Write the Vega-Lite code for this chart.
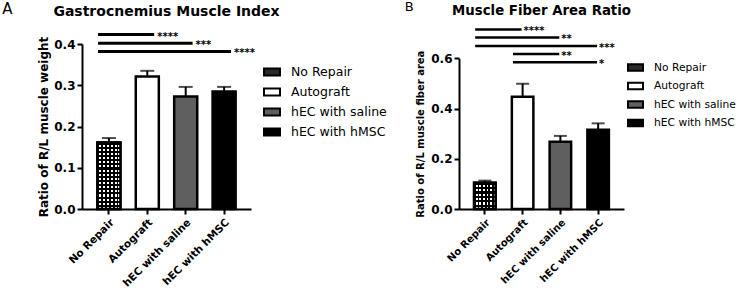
{
 "$schema": "https://vega.github.io/schema/vega-lite/v6.json",
 "padding": {"left": 2, "top": 0, "right": 0, "bottom": 0},
 "spacing": 17,
 "datasets": {
  "gastro": [
   {"group": "No Repair", "mean": 0.161, "upper": 0.172},
   {"group": "Autograft", "mean": 0.321, "upper": 0.335},
   {"group": "hEC with saline", "mean": 0.273, "upper": 0.296},
   {"group": "hEC with hMSC", "mean": 0.285, "upper": 0.296}
  ],
  "fiber": [
   {"group": "No Repair", "mean": 0.105, "upper": 0.113},
   {"group": "Autograft", "mean": 0.447, "upper": 0.499},
   {"group": "hEC with saline", "mean": 0.268, "upper": 0.291},
   {"group": "hEC with hMSC", "mean": 0.316, "upper": 0.341}
  ],
  "gastroSig": [
   {"g1": "No Repair", "g2": "Autograft", "level": 0.423, "stars": "****"},
   {"g1": "No Repair", "g2": "hEC with saline", "level": 0.402, "stars": "***"},
   {"g1": "No Repair", "g2": "hEC with hMSC", "level": 0.382, "stars": "****"}
  ],
  "fiberSig": [
   {"g1": "No Repair", "g2": "Autograft", "level": 0.715, "stars": "****"},
   {"g1": "No Repair", "g2": "hEC with saline", "level": 0.683, "stars": "**"},
   {"g1": "No Repair", "g2": "hEC with hMSC", "level": 0.649, "stars": "***"},
   {"g1": "Autograft", "g2": "hEC with saline", "level": 0.617, "stars": "**"},
   {"g1": "Autograft", "g2": "hEC with hMSC", "level": 0.584, "stars": "*"}
  ]
 },
 "hconcat": [
  {
   "title": {"text": "A", "anchor": "start", "frame": "bounds", "fontSize": 15, "fontWeight": "normal", "dx": -35.5, "offset": -24.5, "baseline": "alphabetic"},
   "vconcat": [
    {
     "width": 169,
     "height": 165,
     "title": {"text": "Gastrocnemius Muscle Index", "fontSize": 14, "fontWeight": "bold", "anchor": "middle", "frame": "group", "offset": 2, "baseline": "alphabetic"},
     "layer": [
      {
       "data": {"name": "gastro"},
       "mark": {"type": "bar", "stroke": "black", "strokeWidth": 2.5},
       "encoding": {
        "x": {"field": "group", "type": "nominal", "title": null,
              "scale": {"domain": ["No Repair", "Autograft", "hEC with saline", "hEC with hMSC"], "paddingInner": 0.4, "paddingOuter": 0.4},
              "axis": {"labelAngle": -45, "labelFontSize": 10.5, "labelAlign": "right", "labelBaseline": "top", "labelPadding": 3}},
        "y": {"field": "mean", "type": "quantitative", "title": "Ratio of R/L muscle weight",
              "scale": {"domain": [0, 0.4], "nice": false},
              "axis": {"values": [0, 0.1, 0.2, 0.3, 0.4], "format": ".1f", "labelFontSize": 12, "titleFontSize": 12, "titlePadding": 3}},
        "fill": {"field": "group", "type": "nominal",
                 "scale": {"domain": ["No Repair", "Autograft", "hEC with saline", "hEC with hMSC"], "range": ["#2a2a2a", "white", "#5f5f5f", "black"]},
                 "legend": {"orient": "none", "legendX": 181, "legendY": 19, "title": null, "labelFontSize": 12.5, "labelColor": "black", "labelLimit": 0, "symbolType": "M-1,-0.44H1V0.44H-1Z", "symbolSize": 256, "symbolStrokeColor": "black", "symbolStrokeWidth": 2, "rowPadding": 3, "labelOffset": 10, "padding": 0}}
       }
      },
      {
       "data": {"name": "gastro"},
       "transform": [{"filter": "datum.group === 'No Repair'"}],
       "mark": {"type": "bar", "strokeWidth": 0, "fill": {"gradient": "linear", "x1": 0, "y1": 0, "x2": 0, "y2": 1, "stops": [
        {"offset": 0, "color": "#000"}, {"offset": 0.03125, "color": "#000"}, {"offset": 0.03125, "color": "#fff"}, {"offset": 0.0625, "color": "#fff"},
        {"offset": 0.0625, "color": "#000"}, {"offset": 0.09375, "color": "#000"}, {"offset": 0.09375, "color": "#fff"}, {"offset": 0.125, "color": "#fff"},
        {"offset": 0.125, "color": "#000"}, {"offset": 0.15625, "color": "#000"}, {"offset": 0.15625, "color": "#fff"}, {"offset": 0.1875, "color": "#fff"},
        {"offset": 0.1875, "color": "#000"}, {"offset": 0.21875, "color": "#000"}, {"offset": 0.21875, "color": "#fff"}, {"offset": 0.25, "color": "#fff"},
        {"offset": 0.25, "color": "#000"}, {"offset": 0.28125, "color": "#000"}, {"offset": 0.28125, "color": "#fff"}, {"offset": 0.3125, "color": "#fff"},
        {"offset": 0.3125, "color": "#000"}, {"offset": 0.34375, "color": "#000"}, {"offset": 0.34375, "color": "#fff"}, {"offset": 0.375, "color": "#fff"},
        {"offset": 0.375, "color": "#000"}, {"offset": 0.40625, "color": "#000"}, {"offset": 0.40625, "color": "#fff"}, {"offset": 0.4375, "color": "#fff"},
        {"offset": 0.4375, "color": "#000"}, {"offset": 0.46875, "color": "#000"}, {"offset": 0.46875, "color": "#fff"}, {"offset": 0.5, "color": "#fff"},
        {"offset": 0.5, "color": "#000"}, {"offset": 0.53125, "color": "#000"}, {"offset": 0.53125, "color": "#fff"}, {"offset": 0.5625, "color": "#fff"},
        {"offset": 0.5625, "color": "#000"}, {"offset": 0.59375, "color": "#000"}, {"offset": 0.59375, "color": "#fff"}, {"offset": 0.625, "color": "#fff"},
        {"offset": 0.625, "color": "#000"}, {"offset": 0.65625, "color": "#000"}, {"offset": 0.65625, "color": "#fff"}, {"offset": 0.6875, "color": "#fff"},
        {"offset": 0.6875, "color": "#000"}, {"offset": 0.71875, "color": "#000"}, {"offset": 0.71875, "color": "#fff"}, {"offset": 0.75, "color": "#fff"},
        {"offset": 0.75, "color": "#000"}, {"offset": 0.78125, "color": "#000"}, {"offset": 0.78125, "color": "#fff"}, {"offset": 0.8125, "color": "#fff"},
        {"offset": 0.8125, "color": "#000"}, {"offset": 0.84375, "color": "#000"}, {"offset": 0.84375, "color": "#fff"}, {"offset": 0.875, "color": "#fff"},
        {"offset": 0.875, "color": "#000"}, {"offset": 0.90625, "color": "#000"}, {"offset": 0.90625, "color": "#fff"}, {"offset": 0.9375, "color": "#fff"},
        {"offset": 0.9375, "color": "#000"}, {"offset": 0.96875, "color": "#000"}, {"offset": 0.96875, "color": "#fff"}, {"offset": 1, "color": "#fff"}]}},
       "encoding": {
        "x": {"field": "group", "type": "nominal", "title": null, "scale": {"domain": ["No Repair", "Autograft", "hEC with saline", "hEC with hMSC"], "paddingInner": 0.4, "paddingOuter": 0.4}},
        "y": {"field": "mean", "type": "quantitative", "title": "Ratio of R/L muscle weight", "scale": {"domain": [0, 0.4], "nice": false}}
       }
      },
      {
       "data": {"name": "gastro"},
       "transform": [{"filter": "datum.group === 'No Repair'"}],
       "mark": {"type": "bar", "stroke": "black", "strokeWidth": 2.5, "fill": {"gradient": "linear", "x1": 0, "y1": 0, "x2": 1, "y2": 0, "stops": [
        {"offset": 0, "color": "#000"}, {"offset": 0.0833, "color": "#000"}, {"offset": 0.0833, "color": "rgba(0,0,0,0)"}, {"offset": 0.1667, "color": "rgba(0,0,0,0)"},
        {"offset": 0.1667, "color": "#000"}, {"offset": 0.25, "color": "#000"}, {"offset": 0.25, "color": "rgba(0,0,0,0)"}, {"offset": 0.3333, "color": "rgba(0,0,0,0)"},
        {"offset": 0.3333, "color": "#000"}, {"offset": 0.4167, "color": "#000"}, {"offset": 0.4167, "color": "rgba(0,0,0,0)"}, {"offset": 0.5, "color": "rgba(0,0,0,0)"},
        {"offset": 0.5, "color": "#000"}, {"offset": 0.5833, "color": "#000"}, {"offset": 0.5833, "color": "rgba(0,0,0,0)"}, {"offset": 0.6667, "color": "rgba(0,0,0,0)"},
        {"offset": 0.6667, "color": "#000"}, {"offset": 0.75, "color": "#000"}, {"offset": 0.75, "color": "rgba(0,0,0,0)"}, {"offset": 0.8333, "color": "rgba(0,0,0,0)"},
        {"offset": 0.8333, "color": "#000"}, {"offset": 0.9167, "color": "#000"}, {"offset": 0.9167, "color": "rgba(0,0,0,0)"}, {"offset": 1, "color": "rgba(0,0,0,0)"}]}},
       "encoding": {
        "x": {"field": "group", "type": "nominal", "title": null, "scale": {"domain": ["No Repair", "Autograft", "hEC with saline", "hEC with hMSC"], "paddingInner": 0.4, "paddingOuter": 0.4}},
        "y": {"field": "mean", "type": "quantitative", "title": "Ratio of R/L muscle weight", "scale": {"domain": [0, 0.4], "nice": false}}
       }
      },
      {
       "data": {"name": "gastro"},
       "mark": {"type": "rule", "color": "black", "strokeWidth": 2},
       "encoding": {
        "x": {"field": "group", "type": "nominal", "title": null, "scale": {"domain": ["No Repair", "Autograft", "hEC with saline", "hEC with hMSC"], "paddingInner": 0.4, "paddingOuter": 0.4}},
        "y": {"field": "mean", "type": "quantitative", "title": "Ratio of R/L muscle weight", "scale": {"domain": [0, 0.4], "nice": false}},
        "y2": {"field": "upper"}
       }
      },
      {
       "data": {"name": "gastro"},
       "mark": {"type": "tick", "color": "black", "size": 14, "thickness": 2},
       "encoding": {
        "x": {"field": "group", "type": "nominal", "title": null, "scale": {"domain": ["No Repair", "Autograft", "hEC with saline", "hEC with hMSC"], "paddingInner": 0.4, "paddingOuter": 0.4}},
        "y": {"field": "upper", "type": "quantitative", "title": "Ratio of R/L muscle weight", "scale": {"domain": [0, 0.4], "nice": false}}
       }
      },
      {
       "data": {"name": "gastroSig"},
       "mark": {"type": "rule", "color": "black", "strokeWidth": 3},
       "encoding": {
        "x": {"field": "g1", "type": "nominal", "title": null, "bandPosition": 0.03, "scale": {"domain": ["No Repair", "Autograft", "hEC with saline", "hEC with hMSC"], "paddingInner": 0.4, "paddingOuter": 0.4}},
        "x2": {"field": "g2", "bandPosition": 0.8},
        "y": {"field": "level", "type": "quantitative", "title": "Ratio of R/L muscle weight", "scale": {"domain": [0, 0.4], "nice": false}}
       }
      },
      {
       "data": {"name": "gastroSig"},
       "mark": {"type": "text", "align": "left", "baseline": "middle", "dx": 3, "dy": 2, "fontSize": 10, "fontWeight": "bold", "color": "black"},
       "encoding": {
        "x": {"field": "g2", "type": "nominal", "title": null, "bandPosition": 0.8, "scale": {"domain": ["No Repair", "Autograft", "hEC with saline", "hEC with hMSC"], "paddingInner": 0.4, "paddingOuter": 0.4}},
        "y": {"field": "level", "type": "quantitative", "title": "Ratio of R/L muscle weight", "scale": {"domain": [0, 0.4], "nice": false}},
        "text": {"field": "stars"}
       }
      }
     ]
    }
   ]
  },
  {
   "title": {"text": "B", "anchor": "start", "frame": "bounds", "fontSize": 13, "fontWeight": "normal", "dx": -11, "offset": -20, "baseline": "alphabetic"},
   "vconcat": [
    {
     "width": 165,
     "height": 165,
     "title": {"text": "Muscle Fiber Area Ratio", "fontSize": 13.3, "fontWeight": "bold", "anchor": "middle", "frame": "group", "offset": -1.5, "baseline": "alphabetic"},
     "layer": [
      {
       "data": {"name": "fiber"},
       "mark": {"type": "bar", "stroke": "black", "strokeWidth": 2.5},
       "encoding": {
        "x": {"field": "group", "type": "nominal", "title": null,
              "scale": {"domain": ["No Repair", "Autograft", "hEC with saline", "hEC with hMSC"], "paddingInner": 0.43, "paddingOuter": 0.4},
              "axis": {"labelAngle": -45, "labelFontSize": 10, "labelAlign": "right", "labelBaseline": "top", "labelPadding": 3}},
        "y": {"field": "mean", "type": "quantitative", "title": "Ratio of R/L muscle fiber area",
              "scale": {"domain": [0, 0.6], "nice": false, "range": [165, 14.3]},
              "axis": {"values": [0, 0.2, 0.4, 0.6], "format": ".1f", "labelFontSize": 12, "titleFontSize": 10, "titlePadding": 5}},
        "fill": {"field": "group", "type": "nominal",
                 "scale": {"domain": ["No Repair", "Autograft", "hEC with saline", "hEC with hMSC"], "range": ["#2a2a2a", "white", "#5f5f5f", "black"]},
                 "legend": {"orient": "none", "legendX": 168, "legendY": 15, "title": null, "labelFontSize": 10.7, "labelColor": "black", "labelLimit": 0, "symbolType": "M-1,-0.44H1V0.44H-1Z", "symbolSize": 225, "symbolStrokeColor": "black", "symbolStrokeWidth": 2, "rowPadding": 2.5, "labelOffset": 10, "padding": 0}}
       }
      },
      {
       "data": {"name": "fiber"},
       "transform": [{"filter": "datum.group === 'No Repair'"}],
       "mark": {"type": "bar", "strokeWidth": 0, "fill": {"gradient": "linear", "x1": 0, "y1": 0, "x2": 0, "y2": 1, "stops": [
        {"offset": 0, "color": "#000"}, {"offset": 0.0833, "color": "#000"}, {"offset": 0.0833, "color": "#fff"}, {"offset": 0.1667, "color": "#fff"},
        {"offset": 0.1667, "color": "#000"}, {"offset": 0.25, "color": "#000"}, {"offset": 0.25, "color": "#fff"}, {"offset": 0.3333, "color": "#fff"},
        {"offset": 0.3333, "color": "#000"}, {"offset": 0.4167, "color": "#000"}, {"offset": 0.4167, "color": "#fff"}, {"offset": 0.5, "color": "#fff"},
        {"offset": 0.5, "color": "#000"}, {"offset": 0.5833, "color": "#000"}, {"offset": 0.5833, "color": "#fff"}, {"offset": 0.6667, "color": "#fff"},
        {"offset": 0.6667, "color": "#000"}, {"offset": 0.75, "color": "#000"}, {"offset": 0.75, "color": "#fff"}, {"offset": 0.8333, "color": "#fff"},
        {"offset": 0.8333, "color": "#000"}, {"offset": 0.9167, "color": "#000"}, {"offset": 0.9167, "color": "#fff"}, {"offset": 1, "color": "#fff"}]}},
       "encoding": {
        "x": {"field": "group", "type": "nominal", "title": null, "scale": {"domain": ["No Repair", "Autograft", "hEC with saline", "hEC with hMSC"], "paddingInner": 0.43, "paddingOuter": 0.4}},
        "y": {"field": "mean", "type": "quantitative", "title": "Ratio of R/L muscle fiber area", "scale": {"domain": [0, 0.6], "nice": false, "range": [165, 14.3]}}
       }
      },
      {
       "data": {"name": "fiber"},
       "transform": [{"filter": "datum.group === 'No Repair'"}],
       "mark": {"type": "bar", "stroke": "black", "strokeWidth": 2.5, "fill": {"gradient": "linear", "x1": 0, "y1": 0, "x2": 1, "y2": 0, "stops": [
        {"offset": 0, "color": "#000"}, {"offset": 0.0833, "color": "#000"}, {"offset": 0.0833, "color": "rgba(0,0,0,0)"}, {"offset": 0.1667, "color": "rgba(0,0,0,0)"},
        {"offset": 0.1667, "color": "#000"}, {"offset": 0.25, "color": "#000"}, {"offset": 0.25, "color": "rgba(0,0,0,0)"}, {"offset": 0.3333, "color": "rgba(0,0,0,0)"},
        {"offset": 0.3333, "color": "#000"}, {"offset": 0.4167, "color": "#000"}, {"offset": 0.4167, "color": "rgba(0,0,0,0)"}, {"offset": 0.5, "color": "rgba(0,0,0,0)"},
        {"offset": 0.5, "color": "#000"}, {"offset": 0.5833, "color": "#000"}, {"offset": 0.5833, "color": "rgba(0,0,0,0)"}, {"offset": 0.6667, "color": "rgba(0,0,0,0)"},
        {"offset": 0.6667, "color": "#000"}, {"offset": 0.75, "color": "#000"}, {"offset": 0.75, "color": "rgba(0,0,0,0)"}, {"offset": 0.8333, "color": "rgba(0,0,0,0)"},
        {"offset": 0.8333, "color": "#000"}, {"offset": 0.9167, "color": "#000"}, {"offset": 0.9167, "color": "rgba(0,0,0,0)"}, {"offset": 1, "color": "rgba(0,0,0,0)"}]}},
       "encoding": {
        "x": {"field": "group", "type": "nominal", "title": null, "scale": {"domain": ["No Repair", "Autograft", "hEC with saline", "hEC with hMSC"], "paddingInner": 0.43, "paddingOuter": 0.4}},
        "y": {"field": "mean", "type": "quantitative", "title": "Ratio of R/L muscle fiber area", "scale": {"domain": [0, 0.6], "nice": false, "range": [165, 14.3]}}
       }
      },
      {
       "data": {"name": "fiber"},
       "mark": {"type": "rule", "color": "black", "strokeWidth": 2},
       "encoding": {
        "x": {"field": "group", "type": "nominal", "title": null, "scale": {"domain": ["No Repair", "Autograft", "hEC with saline", "hEC with hMSC"], "paddingInner": 0.43, "paddingOuter": 0.4}},
        "y": {"field": "mean", "type": "quantitative", "title": "Ratio of R/L muscle fiber area", "scale": {"domain": [0, 0.6], "nice": false, "range": [165, 14.3]}},
        "y2": {"field": "upper"}
       }
      },
      {
       "data": {"name": "fiber"},
       "mark": {"type": "tick", "color": "black", "size": 13, "thickness": 2},
       "encoding": {
        "x": {"field": "group", "type": "nominal", "title": null, "scale": {"domain": ["No Repair", "Autograft", "hEC with saline", "hEC with hMSC"], "paddingInner": 0.43, "paddingOuter": 0.4}},
        "y": {"field": "upper", "type": "quantitative", "title": "Ratio of R/L muscle fiber area", "scale": {"domain": [0, 0.6], "nice": false, "range": [165, 14.3]}}
       }
      },
      {
       "data": {"name": "fiberSig"},
       "mark": {"type": "rule", "color": "black", "strokeWidth": 2.5},
       "encoding": {
        "x": {"field": "g1", "type": "nominal", "title": null, "bandPosition": 0.05, "scale": {"domain": ["No Repair", "Autograft", "hEC with saline", "hEC with hMSC"], "paddingInner": 0.43, "paddingOuter": 0.4}},
        "x2": {"field": "g2", "bandPosition": 0.45},
        "y": {"field": "level", "type": "quantitative", "title": "Ratio of R/L muscle fiber area", "scale": {"domain": [0, 0.6], "nice": false, "range": [165, 14.3]}}
       }
      },
      {
       "data": {"name": "fiberSig"},
       "mark": {"type": "text", "align": "left", "baseline": "middle", "dx": 2, "dy": 2, "fontSize": 10, "fontWeight": "bold", "color": "black"},
       "encoding": {
        "x": {"field": "g2", "type": "nominal", "title": null, "bandPosition": 0.45, "scale": {"domain": ["No Repair", "Autograft", "hEC with saline", "hEC with hMSC"], "paddingInner": 0.43, "paddingOuter": 0.4}},
        "y": {"field": "level", "type": "quantitative", "title": "Ratio of R/L muscle fiber area", "scale": {"domain": [0, 0.6], "nice": false, "range": [165, 14.3]}},
        "text": {"field": "stars"}
       }
      }
     ]
    }
   ]
  }
 ],
 "resolve": {"scale": {"x": "independent", "y": "independent", "fill": "independent"}, "legend": {"fill": "independent"}},
 "config": {
  "font": "DejaVu Sans",
  "view": {"stroke": null},
  "title": {"color": "black"},
  "axis": {"domainColor": "black", "domainWidth": 2, "tickColor": "black", "tickWidth": 2, "tickSize": 5, "labelColor": "black", "labelFontWeight": "bold", "titleColor": "black", "titleFontWeight": "bold", "grid": false, "labelPadding": 2}
 }
}
